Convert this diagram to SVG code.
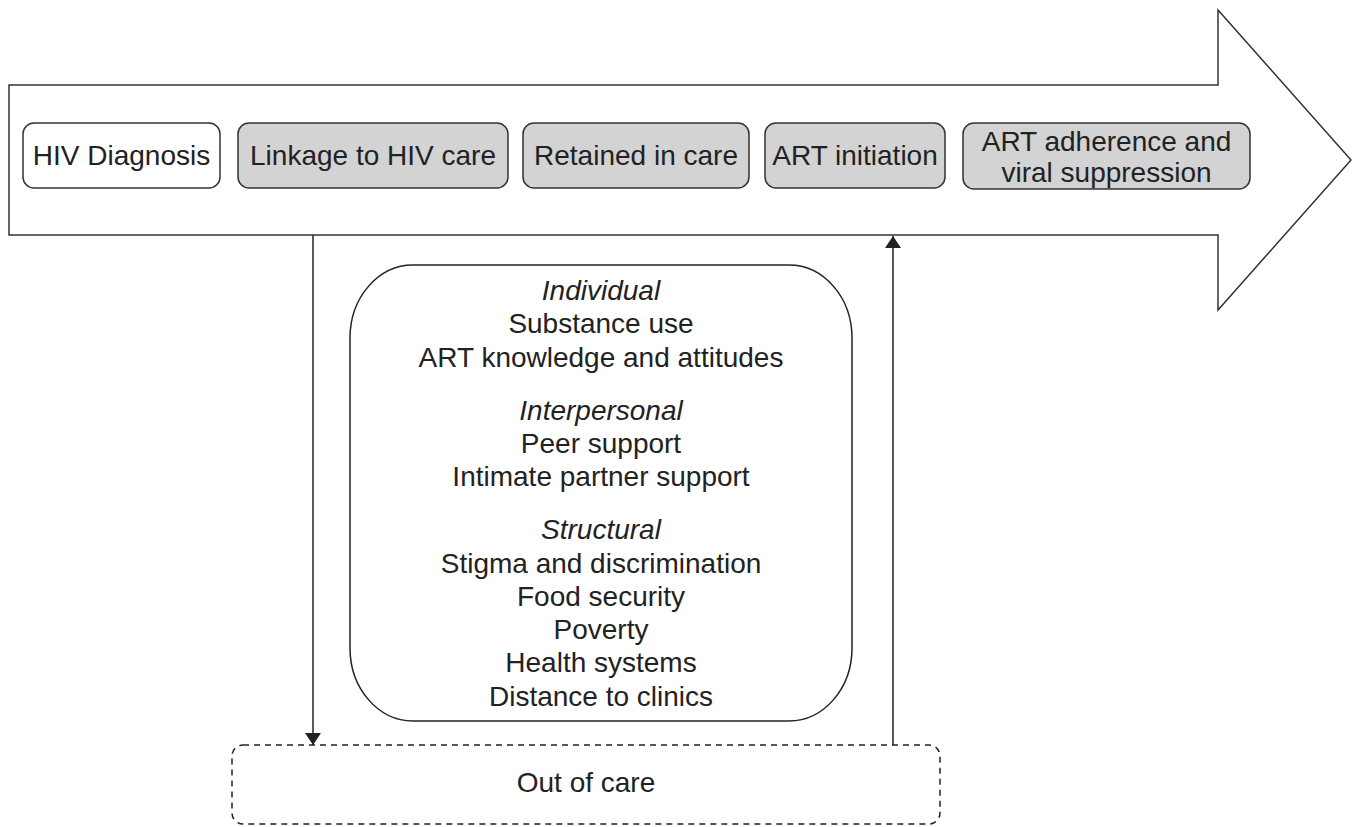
<svg xmlns="http://www.w3.org/2000/svg" width="1359" height="827" viewBox="0 0 1359 827">
<defs>
<marker id="ah" viewBox="0 0 12 16" refX="12" refY="8" markerWidth="12" markerHeight="16" markerUnits="userSpaceOnUse" orient="auto">
<path d="M0,0 L12,8 L0,16 Z" fill="#222"/>
</marker>
</defs>
<style>
text{font-family:"Liberation Sans",Arial,sans-serif;font-size:28px;fill:#222;text-anchor:middle}
.it{font-style:italic}
.step{stroke:#333;stroke-width:1.5}
.g{fill:#d3d3d3}
.w{fill:#fff}
.conn{stroke:#222;stroke-width:1.5;fill:none}
</style>
<rect width="1359" height="827" fill="#fff"/>
<g id="big-arrow">
<path d="M9,85 L1218,85 L1218,10 L1351,160 L1218,310 L1218,235 L9,235 Z" fill="#fff" stroke="#333" stroke-width="1.5"/>
</g>
<g id="hiv-diagnosis">
<rect class="step w" x="23" y="123" width="197" height="65" rx="11"/>
<text x="121.5" y="165">HIV Diagnosis</text>
</g>
<g id="linkage">
<rect class="step g" x="238" y="123" width="270" height="65" rx="11"/>
<text x="373" y="165">Linkage to HIV care</text>
</g>
<g id="retained">
<rect class="step g" x="523" y="123" width="226" height="65" rx="11"/>
<text x="636" y="165">Retained in care</text>
</g>
<g id="art-initiation">
<rect class="step g" x="765" y="123" width="180" height="65" rx="11"/>
<text x="855" y="165">ART initiation</text>
</g>
<g id="art-adherence">
<rect class="step g" x="963" y="123" width="287" height="66" rx="11"/>
<text x="1106.5" y="151">ART adherence and</text>
<text x="1106.5" y="182">viral suppression</text>
</g>
<g id="factors">
<rect x="350" y="265" width="502" height="456" rx="63" ry="73" fill="#fff" stroke="#222" stroke-width="1.5"/>
<text class="it" x="601" y="300">Individual</text>
<text x="601" y="333">Substance use</text>
<text x="601" y="367">ART knowledge and attitudes</text>
<text class="it" x="601" y="420">Interpersonal</text>
<text x="601" y="453">Peer support</text>
<text x="601" y="486">Intimate partner support</text>
<text class="it" x="601" y="539">Structural</text>
<text x="601" y="573">Stigma and discrimination</text>
<text x="601" y="606">Food security</text>
<text x="601" y="639">Poverty</text>
<text x="601" y="672">Health systems</text>
<text x="601" y="706">Distance to clinics</text>
</g>
<g id="out-of-care">
<rect x="232" y="745" width="708" height="79" rx="11" fill="#fff" stroke="#222" stroke-width="1.5" stroke-dasharray="6,5"/>
<text x="586" y="792">Out of care</text>
</g>
<g id="connectors">
<line class="conn" x1="313" y1="235" x2="313" y2="745" marker-end="url(#ah)"/>
<line class="conn" x1="893" y1="745" x2="893" y2="236" marker-end="url(#ah)"/>
</g>
</svg>
